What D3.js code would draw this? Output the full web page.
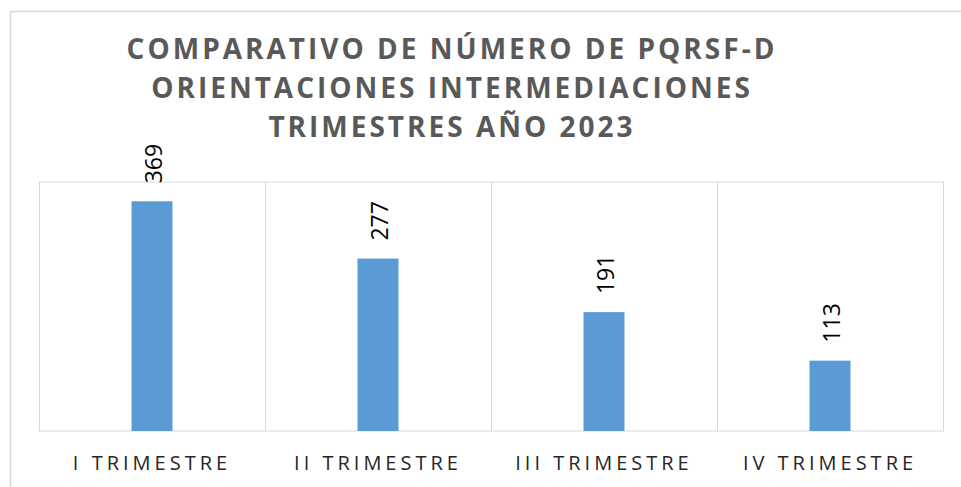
<!DOCTYPE html>
<html>
<head>
<meta charset="utf-8">
<script src="https://cdn.jsdelivr.net/npm/d3@7"></script>
<style>
  body { margin: 0; background: #fff; }
  svg { display: block; }
</style>
</head>
<body>
<svg id="vis"></svg>
<script>
// chart data
const CATEGORIES = ['I TRIMESTRE', 'II TRIMESTRE', 'III TRIMESTRE', 'IV TRIMESTRE']
const VALUES = [369, 277, 191, 113]
const TITLE_LINES = ['COMPARATIVO DE NÚMERO DE PQRSF-D', 'ORIENTACIONES INTERMEDIACIONES', 'TRIMESTRES AÑO 2023']

const W = 961, H = 487
const PLOT = {left: 39, right: 943, top: 182, bottom: 431}

var svg = d3.select('#vis')
    .attr('width', W)
    .attr('height', H)

// outer chart frame (cropped at right/bottom)
svg.append('rect')
    .attr('x', 10.5)
    .attr('y', 11.5)
    .attr('width', 1000)
    .attr('height', 1000)
    .attr('fill', 'white')
    .attr('stroke', '#d9d9d9')
    .attr('stroke-width', 1.5)

var x = d3.scaleBand()
    .domain(CATEGORIES)
    .range([PLOT.left, PLOT.right])
    .paddingInner(0)
    .paddingOuter(0)

var y = d3.scaleLinear()
    .domain([0, 400])
    .range([PLOT.bottom, PLOT.top])

// plot area box with category separators
svg.append('rect')
    .attr('x', PLOT.left + 0.5)
    .attr('y', PLOT.top)
    .attr('width', PLOT.right - PLOT.left)
    .attr('height', PLOT.bottom - PLOT.top)
    .attr('fill', 'none')
    .attr('stroke', '#d9d9d9')

svg.selectAll('.sep')
    .data(CATEGORIES.slice(1))
    .enter().append('line')
    .attr('x1', d => x(d) + 0.5)
    .attr('x2', d => x(d) + 0.5)
    .attr('y1', PLOT.top)
    .attr('y2', PLOT.bottom)
    .attr('stroke', '#d9d9d9')

// bars
const BAR_W = 41
svg.selectAll('.bar')
    .data(VALUES)
    .enter().append('rect')
    .attr('x', (d, i) => x(CATEGORIES[i]) + x.bandwidth() / 2 - BAR_W / 2)
    .attr('y', d => y(d))
    .attr('width', BAR_W)
    .attr('height', d => y(0) - y(d))
    .attr('fill', '#5b9bd5')

// rotated value labels
svg.selectAll('.val')
    .data(VALUES)
    .enter().append('text')
    .attr('transform', (d, i) => `translate(${x(CATEGORIES[i]) + x.bandwidth() / 2 + 10},${y(d) - 18}) rotate(-90)`)
    .attr('font-family', 'Open Sans, sans-serif')
    .attr('font-size', '23px')
    .attr('fill', '#000')
    .text(d => d)

// category labels
svg.selectAll('.cat')
    .data(CATEGORIES)
    .enter().append('text')
    .attr('x', d => x(d) + x.bandwidth() / 2)
    .attr('y', 470)
    .attr('text-anchor', 'middle')
    .attr('font-family', 'Open Sans, sans-serif')
    .attr('font-size', '20px')
    .attr('letter-spacing', '4px')
    .attr('fill', '#262626')
    .text(d => d)

// title
svg.selectAll('.title')
    .data(TITLE_LINES)
    .enter().append('text')
    .attr('x', 452)
    .attr('y', (d, i) => 59 + i * 39)
    .attr('text-anchor', 'middle')
    .attr('font-family', 'Open Sans, sans-serif')
    .attr('font-weight', 'bold')
    .attr('font-size', '28px')
    .attr('letter-spacing', '3px')
    .attr('fill', '#595959')
    .text(d => d)
</script>
</body>
</html>
